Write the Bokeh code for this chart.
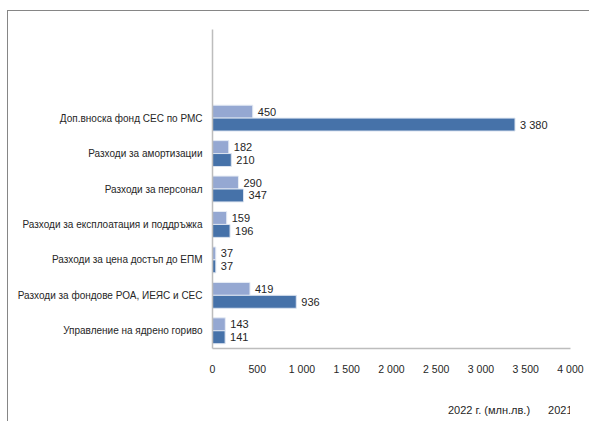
from bokeh.plotting import figure
from bokeh.layouts import column
from bokeh.models import ColumnDataSource, Range1d, Legend, LegendItem, FixedTicker
from bokeh.core.properties import value
from bokeh.embed import file_html
from bokeh.resources import INLINE

# ---- data (bottom to top) ----
categories = [
    "Управление на ядрено гориво",
    "Разходи за фондове РОА, ИЕЯС и СЕС",
    "Разходи за цена достъп до ЕПМ",
    "Разходи за експлоатация и поддръжка",
    "Разходи за персонал",
    "Разходи за амортизации",
    "Доп.вноска фонд СЕС по РМС",
]
values_2022 = [143, 419, 37, 159, 290, 182, 450]
values_2021 = [141, 936, 37, 196, 347, 210, 3380]
series_names = ["2022 г. (млн.лв.)", "2021 г. (млн.лв.)"]
x_ticks = [0, 500, 1000, 1500, 2000, 2500, 3000, 3500, 4000]
x_tick_labels = ["0", "500", "1 000", "1 500", "2 000", "2 500", "3 000", "3 500", "4 000"]

FONT = "Liberation Sans"
C22 = "#95A8D2"
C21 = "#4672A9"
TXT = "#262626"

def fmt(v):
    return f"{v:,}".replace(",", " ")

pos = list(range(len(categories)))
bar_h = 0.365
src22 = ColumnDataSource(dict(y=[p_ + bar_h / 2 for p_ in pos], v=values_2022,
                              lab=[fmt(v) for v in values_2022]))
src21 = ColumnDataSource(dict(y=[p_ - bar_h / 2 for p_ in pos], v=values_2021,
                              lab=[fmt(v) for v in values_2021]))

W = 581
p = figure(width=W, height=373, output_backend="svg", toolbar_location=None,
           x_range=Range1d(0, 4000), y_range=Range1d(-0.5, 8.5),
           min_border_left=204, min_border_right=19, min_border_top=18,
           min_border_bottom=36)
p.outline_line_color = None
p.grid.visible = False
p.background_fill_color = "white"
p.border_fill_color = "white"

p.hbar(y="y", right="v", left=0, height=bar_h, source=src22,
       fill_color=C22, line_color="#E6ECF5", line_width=1)
p.hbar(y="y", right="v", left=0, height=bar_h, source=src21,
       fill_color=C21, line_color="#DCE4F0", line_width=1)

for s in (src22, src21):
    p.text(x="v", y="y", text="lab", source=s, x_offset=5, text_baseline="middle",
           text_align="left", text_font=value(FONT), text_font_size="11px",
           text_color=TXT)

# axes
p.xaxis.ticker = FixedTicker(ticks=x_ticks)
p.xaxis.major_label_overrides = {t: l for t, l in zip(x_ticks, x_tick_labels)}
p.yaxis.ticker = FixedTicker(ticks=pos)
p.yaxis.major_label_overrides = {i: c for i, c in zip(pos, categories)}
for ax in (p.xaxis, p.yaxis):
    ax.axis_line_color = "#BDBDBD"
    ax.axis_line_width = 1.5
    ax.major_tick_line_color = None
    ax.minor_tick_line_color = None
    ax.major_tick_out = 0
    ax.major_tick_in = 0
    ax.minor_tick_out = 0
    ax.minor_tick_in = 0
    ax.major_label_text_font = FONT
    ax.major_label_text_color = TXT
p.xaxis.major_label_text_font_size = "10.5px"
p.yaxis.major_label_text_font_size = "10px"
p.xaxis.major_label_standoff = 14
p.yaxis.major_label_standoff = 10

# ---- legend strip below the chart ----
q = figure(width=W, height=37, output_backend="svg", toolbar_location=None,
           x_range=Range1d(0, 1), y_range=Range1d(0, 1),
           x_axis_type=None, y_axis_type=None,
           min_border_left=0, min_border_right=0, min_border_top=0,
           min_border_bottom=0)
q.outline_line_color = None
q.grid.visible = False
q.background_fill_color = "white"
q.border_fill_color = "white"
k22 = q.hbar(y=[], right=[], left=0, height=0.5, fill_color=C22, line_color=None)
k21 = q.hbar(y=[], right=[], left=0, height=0.5, fill_color=C21, line_color=None)

legend = Legend(items=[LegendItem(label=series_names[0], renderers=[k22]),
                       LegendItem(label=series_names[1], renderers=[k21])],
                location=(227, 5), orientation="horizontal",
                padding=0, margin=0, spacing=9, glyph_width=6, glyph_height=7,
                label_standoff=3, label_width=0, border_line_color=None,
                background_fill_alpha=0,
                label_text_font=FONT, label_text_font_size="11px",
                label_text_color=TXT, label_height=12)
q.add_layout(legend, "center")

layout = column(p, q, spacing=0)
# outer chart-area frame (only its left and top edges are inside the window)
layout.styles = {"margin-left": "7px", "margin-top": "10px",
                 "border-left": "1px solid #868686", "border-top": "1px solid #868686"}

open("out.html", "w").write(file_html(layout, INLINE))
